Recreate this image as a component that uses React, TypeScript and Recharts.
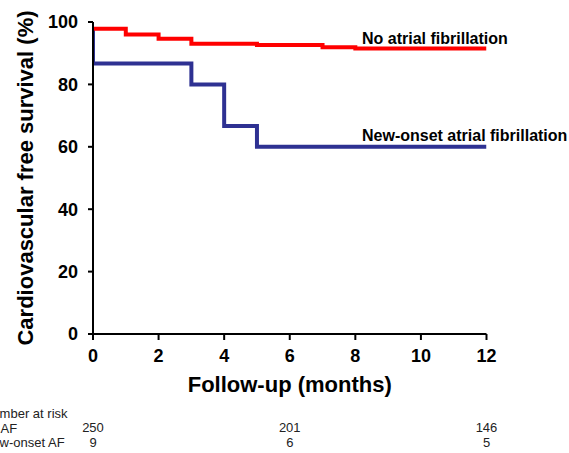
import React from "react";
import { LineChart, Line, XAxis, YAxis, Customized } from "recharts";

// Kaplan-Meier style step data
const noAfTimes = [0, 1, 2, 3, 5, 7, 8, 12];
const noAfSurvival = [97.8, 96.0, 94.6, 93.0, 92.6, 91.9, 91.5, 91.5];
const newAfTimes = [0, 0, 3, 4, 5, 12];
const newAfSurvival = [97.8, 86.7, 80.0, 66.7, 60.0, 60.0];

// Axis ticks
const xTicks = [0, 2, 4, 6, 8, 10, 12];
const yTicks = [0, 20, 40, 60, 80, 100];

// Number at risk table
const riskTimes = [0, 6, 12];
const riskNoAF = [250, 201, 146];
const riskNewAF = [9, 6, 5];
const riskTitle = "Number at risk";
const riskRowLabels = ["No AF", "New-onset AF"];

const seriesNames = ["No atrial fibrillation", "New-onset atrial fibrillation"];

const noAfData = noAfTimes.map((t, i) => ({ t, s: noAfSurvival[i] }));
const newAfData = newAfTimes.map((t, i) => ({ t, s: newAfSurvival[i] }));
const riskNoAFData = riskTimes.map((t, i) => ({ t, n: riskNoAF[i] }));
const riskNewAFData = riskTimes.map((t, i) => ({ t, n: riskNewAF[i] }));

const FONT = "'Liberation Sans', Arial, Helvetica, sans-serif";

const Overlay = () => (
  <g fontFamily={FONT}>
    <text x={362} y={43.7} fontSize={16} fontWeight="bold" fill="#000">
      {seriesNames[0]}
    </text>
    <text x={362} y={140.5} fontSize={16} fontWeight="bold" fill="#000">
      {seriesNames[1]}
    </text>
    <text x={-17} y={417.7} fontSize={13} fill="#222">
      {riskTitle}
    </text>
    <text x={-19} y={432.6} fontSize={13} fill="#222">
      {riskRowLabels[0]}
    </text>
    <text x={-17} y={447.4} fontSize={13} fill="#222">
      {riskRowLabels[1]}
    </text>
  </g>
);

export default function App() {
  return (
    <div style={{ position: "absolute", left: 0, top: 0, background: "#fff" }}>
      <LineChart
        width={569}
        height={453}
        margin={{ top: 22, right: 82.5, bottom: 10, left: 13 }}
        style={{ fontFamily: FONT }}
      >
        <XAxis
          dataKey="t"
          type="number"
          domain={[0, 12]}
          ticks={xTicks}
          allowDataOverflow
          height={60}
          stroke="#000"
          strokeWidth={2}
          tickSize={6}
          tickMargin={9}
          tick={{ fill: "#000", fontSize: 18, fontWeight: "bold" }}
          label={{
            value: "Follow-up (months)",
            position: "insideBottom",
            offset: 2,
            fill: "#000",
            fontSize: 22,
            fontWeight: "bold",
          }}
        />
        <XAxis
          xAxisId="r1"
          dataKey="t"
          type="number"
          domain={[0, 12]}
          ticks={riskTimes}
          allowDataOverflow
          height={34}
          axisLine={false}
          tickLine={false}
          tickSize={0}
          tickMargin={29}
          tick={{ fill: "#222", fontSize: 13 }}
          tickFormatter={(v: number) => String(riskNoAF[riskTimes.indexOf(v)])}
        />
        <XAxis
          xAxisId="r2"
          dataKey="t"
          type="number"
          domain={[0, 12]}
          ticks={riskTimes}
          allowDataOverflow
          height={15}
          axisLine={false}
          tickLine={false}
          tickSize={0}
          tickMargin={10}
          tick={{ fill: "#222", fontSize: 13 }}
          tickFormatter={(v: number) => String(riskNewAF[riskTimes.indexOf(v)])}
        />
        <YAxis
          type="number"
          domain={[0, 100]}
          ticks={yTicks}
          allowDataOverflow
          width={80}
          stroke="#000"
          strokeWidth={2}
          tickSize={5}
          tickMargin={10}
          tick={{ fill: "#000", fontSize: 18, fontWeight: "bold" }}
          label={{
            value: "Cardiovascular free survival (%)",
            angle: -90,
            position: "insideLeft",
            offset: 12,
            fill: "#000",
            fontSize: 22,
            fontWeight: "bold",
            style: { textAnchor: "middle" },
          }}
        />
        <Line
          xAxisId="r1"
          data={riskNoAFData}
          dataKey="n"
          stroke="none"
          strokeWidth={0}
          dot={false}
          activeDot={false}
          legendType="none"
          isAnimationActive={false}
        />
        <Line
          xAxisId="r2"
          data={riskNewAFData}
          dataKey="n"
          stroke="none"
          strokeWidth={0}
          dot={false}
          activeDot={false}
          legendType="none"
          isAnimationActive={false}
        />
        <Line
          data={newAfData}
          dataKey="s"
          type="stepAfter"
          stroke="#2e3192"
          strokeWidth={4}
          dot={false}
          isAnimationActive={false}
        />
        <Line
          data={noAfData}
          dataKey="s"
          type="stepAfter"
          stroke="#ff0000"
          strokeWidth={4}
          dot={false}
          isAnimationActive={false}
        />
        <Customized component={Overlay} />
      </LineChart>
    </div>
  );
}
